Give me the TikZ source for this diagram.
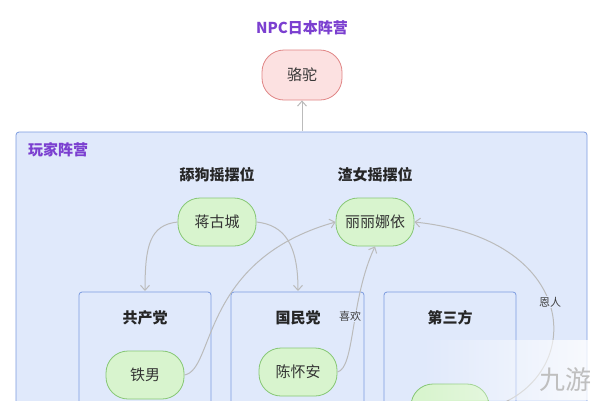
\documentclass[tikz,border=0pt]{standalone}
\usepackage{fontspec}
\setmainfont{Noto Sans CJK SC}
\usetikzlibrary{arrows.meta,fadings}
\definecolor{purp}{HTML}{7B3FD0}
\definecolor{outerfill}{HTML}{E0E9FB}
\definecolor{outerdraw}{HTML}{7C9BDF}
\definecolor{gfill}{HTML}{D8F4CE}
\definecolor{gdraw}{HTML}{86C774}
\definecolor{rfill}{HTML}{FCE1E1}
\definecolor{rdraw}{HTML}{E08585}
\definecolor{conn}{HTML}{BBBBBB}
\tikzset{
  x=1pt,y=-1pt,
  grp/.style={draw=outerdraw,fill=outerfill,line width=0.8pt,rounded corners=3pt},
  gnode/.style={draw=gdraw,fill=gfill,line width=0.8pt,rounded corners=22pt,minimum width=78pt,minimum height=48pt,font=\fontsize{15}{15}\selectfont,text=black!80},
  rnode/.style={gnode,draw=rdraw,fill=rfill,minimum width=80pt,minimum height=50pt},
  ttl/.style={font=\bfseries\fontsize{15}{15}\selectfont,text=black!85},
  ptl/.style={font=\bfseries\fontsize{15}{15}\selectfont,text=purp},
  link/.style={draw=conn,line width=1pt,-{Straight Barb[length=5pt,width=9pt]}},
  lbl/.style={fill=outerfill,font=\fontsize{11}{11}\selectfont,text=black!75,inner sep=1pt}
}
\begin{document}
\begin{tikzpicture}
\useasboundingbox (0,0) rectangle (604,400);
\fill[white] (0,0) rectangle (604,400);
\node[ptl] (npct) at (302,28) {NPC日本阵营};
\node[rnode] (luotuo) at (302,75) {骆驼};
\draw[grp] (16,132) rectangle (587,410);
\coordinate (otop) at (302,131);
\draw[link] (otop) -- (luotuo.south);
\node[ptl] (playt) at (58,150) {玩家阵营};
\node[ttl] (t1) at (217,175) {舔狗摇摆位};
\node[ttl] (t2) at (375,175) {渣女摇摆位};
\node[gnode] (jiang) at (217,222) {蒋古城};
\node[gnode] (lili) at (375,222) {丽丽娜依};
\draw[grp] (79,292) rectangle (211,410);
\draw[grp] (231,292) rectangle (364,410);
\draw[grp] (384,292) rectangle (516,410);
\coordinate (b1) at (145,291);
\coordinate (b2) at (298,291);
\node[ttl] (gc) at (145,318) {共产党};
\node[ttl] (gm) at (298,318) {国民党};
\node[ttl] (ds) at (450,318) {第三方};
\node[gnode] (tie) at (145,375) {铁男};
\node[gnode] (chen) at (298,372) {陈怀安};
\node[gnode] (third) at (450,408) {\phantom{铁男}};
\draw[link] (jiang.west) .. controls (150,225) and (145,245) .. (b1);
\draw[link] (jiang.east) .. controls (285,225) and (298,245) .. (b2);
\draw[link] (tie.east) .. controls (215,370) and (200,260) .. (lili.west);
\draw[link] (chen.east) .. controls (355,368) and (350,300) .. (lili.south);
\draw[link] (third.east) .. controls (585,380) and (585,240) .. (lili.east);
\node[lbl] (xh) at (350,316) {喜欢};
\node[lbl] (er) at (550,302) {恩人};
\fill[white,path fading=west,opacity=0.85] (420,340) rectangle (604,400);
\node[font=\itshape\fontsize{26}{26}\selectfont,text=black!25] (wm) at (565,380) {九游};
\end{tikzpicture}
\end{document}
